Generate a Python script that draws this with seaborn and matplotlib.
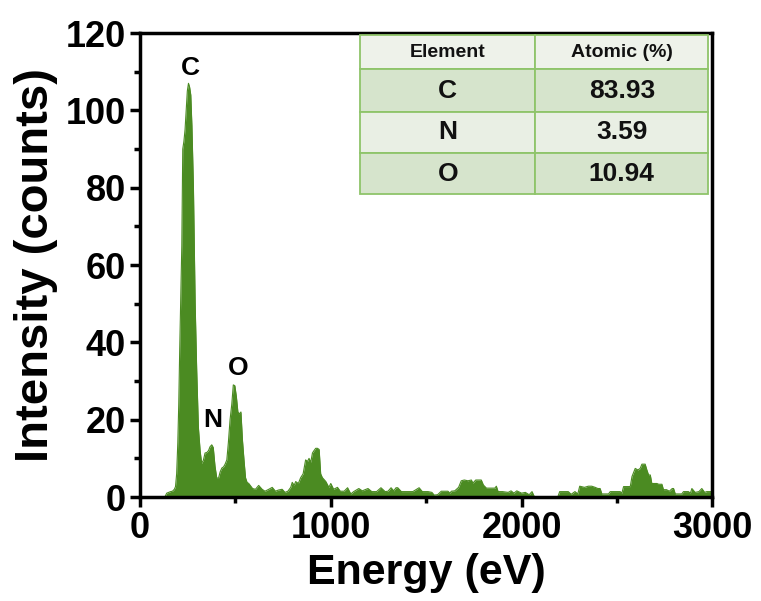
import numpy as np
import pandas as pd
import seaborn as sns
import matplotlib.pyplot as plt
from matplotlib.ticker import MultipleLocator
from matplotlib.patches import Rectangle

# EDS spectrum
energy = [130, 140, 150, 160, 170, 180, 186, 192, 198, 203, 208, 213, 219, 224, 230,
          236, 242, 248, 254, 260, 266, 272, 280, 289, 297, 306, 315, 323, 332, 341,
          350, 359, 367, 376, 384, 393, 402, 411, 420, 429, 438, 446, 455, 463, 472,
          481, 489, 497, 505, 513, 521, 529, 537, 545, 553, 561, 570, 590, 605, 622,
          640, 655, 675, 693, 710, 725, 745, 760, 775, 790, 798, 808, 816, 830, 842,
          855, 868, 878, 886, 895, 904, 912, 921, 930, 939, 947, 956, 965, 974, 990,
          1000, 1015, 1035, 1050, 1070, 1088, 1105, 1120, 1147, 1165, 1195, 1215, 1240, 1263, 1285,
          1300, 1316, 1330, 1342, 1351, 1370, 1400, 1430, 1463, 1480, 1510, 1530, 1542, 1560, 1579,
          1614, 1625, 1632, 1650, 1670, 1684, 1700, 1719, 1737, 1745, 1760, 1789, 1800, 1816, 1840,
          1860, 1868, 1877, 1900, 1930, 1945, 1960, 1975, 2000, 2020, 2040, 2055, 2065, 2070, 2190,
          2200, 2225, 2245, 2260, 2280, 2295, 2305, 2330, 2350, 2368, 2386, 2400, 2412, 2421, 2440,
          2456, 2465, 2490, 2517, 2526, 2535, 2555, 2570, 2579, 2596, 2610, 2622, 2631, 2648, 2657,
          2666, 2675, 2683, 2700, 2710, 2719, 2736, 2744, 2760, 2775, 2790, 2797, 2806, 2825, 2840,
          2849, 2875, 2885, 2893, 2910, 2930, 2945, 2960, 2971, 2990, 3000]
counts = [0, 1.0, 1.2, 1.4, 1.5, 2.0, 2.7, 6, 14, 24, 38, 50, 65, 90, 92,
          95, 100, 105, 107, 106, 104, 96, 80, 50, 33, 18, 12, 8.7, 9.5, 11.4,
          11.5, 12.0, 13.0, 13.5, 12.8, 8.0, 5.0, 4.8, 6.5, 7.5, 7.8, 8.5, 9.6, 14, 20,
          24, 29, 28.8, 26, 22, 21.5, 22, 14.7, 9.6, 5.0, 3.8, 3.5, 2.2, 2.0, 3.0,
          2.0, 1.5, 2.0, 2.5, 1.5, 1.8, 2.0, 1.2, 1.5, 2.5, 3.8, 3.0, 4.0, 3.5, 5.0,
          6.0, 9.6, 9.2, 10, 9.0, 11.4, 12, 12.6, 12.6, 12.3, 6.0, 5.0, 4.5, 4.0, 2.5,
          3.5, 2.0, 2.5, 1.5, 1.5, 2.4, 0.8, 1.4, 2.2, 1.6, 2.2, 1.4, 1.4, 2.4, 1.4,
          1.5, 2.4, 1.6, 2.4, 2.4, 1.4, 1.4, 1.4, 2.4, 1.4, 1.4, 1.2, 0.5, 0.6, 1.5,
          1.5, 1.0, 1.5, 1.6, 2.5, 4.2, 4.4, 4.2, 4.4, 3.6, 4.4, 4.4, 3.1, 2.3, 2.3,
          2.3, 2.8, 1.4, 1.4, 1.2, 1.6, 1.0, 1.6, 1.0, 1.2, 0.6, 1.4, 0.3, 0, 0,
          1.4, 1.4, 1.4, 0.7, 1.4, 0.8, 2.8, 2.5, 2.8, 2.8, 2.5, 2.2, 2.2, 0.8, 0.8,
          0.8, 1.4, 1.4, 1.4, 1.0, 2.7, 2.7, 2.7, 5.3, 7.4, 7.0, 7.4, 8.5, 8.5, 7.0,
          5.7, 5.7, 3.5, 3.5, 3.5, 3.3, 3.3, 1.9, 1.9, 1.5, 2.2, 2.2, 0.8, 0.8, 0.8,
          1.4, 1.4, 1.0, 2.2, 1.2, 1.4, 2.2, 1.2, 1.4, 1.4, 1.4]

# peak labels
peak_names = ['C', 'N', 'O']
peak_x = [262, 383, 514]
peak_y = [111, 20, 33.4]

# composition table
table_header = ['Element', 'Atomic (%)']
table_elements = ['C', 'N', 'O']
table_values = ['83.93', '3.59', '10.94']

green = '#4b8b22'
df = pd.DataFrame({'Energy': energy, 'Counts': counts})

sns.set_style('ticks')
plt.rcParams['font.family'] = ['Liberation Sans', 'DejaVu Sans']
plt.rcParams['font.weight'] = 'bold'
plt.rcParams['text.color'] = 'black'
plt.rcParams['axes.labelcolor'] = 'black'
plt.rcParams['xtick.color'] = 'black'
plt.rcParams['ytick.color'] = 'black'

fig = plt.figure(figsize=(7.61, 6.01), dpi=100)
ax = fig.add_axes([0.184, 0.173, 0.752, 0.772])

sns.lineplot(data=df, x='Energy', y='Counts', color=green, lw=0.8, ax=ax, sort=False)
ax.fill_between(df['Energy'], df['Counts'], color=green, lw=0)

ax.set_xlim(0, 3000)
ax.set_ylim(0, 120)
ax.xaxis.set_major_locator(MultipleLocator(1000))
ax.xaxis.set_minor_locator(MultipleLocator(500))
ax.yaxis.set_major_locator(MultipleLocator(20))
ax.yaxis.set_minor_locator(MultipleLocator(10))
ax.tick_params(which='major', direction='out', length=7, width=2.5, pad=3)
ax.tick_params(axis='x', which='major', labelsize=26)
ax.tick_params(axis='y', which='major', labelsize=26)
ax.tick_params(which='minor', direction='out', length=4, width=2.5)
for s in ax.spines.values():
    s.set_visible(True)
    s.set_linewidth(2.5)
    s.set_color('black')

ax.set_xlabel('Energy (eV)', fontsize=31, fontweight='bold', labelpad=5)
ax.set_ylabel('Intensity (counts)', fontsize=34, fontweight='bold', labelpad=6)

for name, px, py in zip(peak_names, peak_x, peak_y):
    ax.text(px, py, name, fontsize=19, fontweight='bold', ha='center', va='center')

# table drawn in axes coordinates
col_x = [0.385, 0.6906, 0.993]
row_y = [0.9957, 0.9218, 0.8304, 0.742, 0.6524]
fills = ['#eef2ea', '#d6e4cc', '#e9efe4', '#d6e4cc']
rows = [table_header] + [[e, v] for e, v in zip(table_elements, table_values)]
for r, row in enumerate(rows):
    for c, txt in enumerate(row):
        x0, x1 = col_x[c], col_x[c + 1]
        y1, y0 = row_y[r], row_y[r + 1]
        ax.add_patch(Rectangle((x0, y0), x1 - x0, y1 - y0, transform=ax.transAxes,
                               facecolor=fills[r], edgecolor='#8fc46a', lw=1.3, zorder=5))
        ax.text((x0 + x1) / 2, (y0 + y1) / 2, txt, transform=ax.transAxes,
                ha='center', va='center', fontweight='bold',
                fontsize=14 if r == 0 else 19, color='#111111', zorder=6)

fig.savefig('out.png', dpi=100)
